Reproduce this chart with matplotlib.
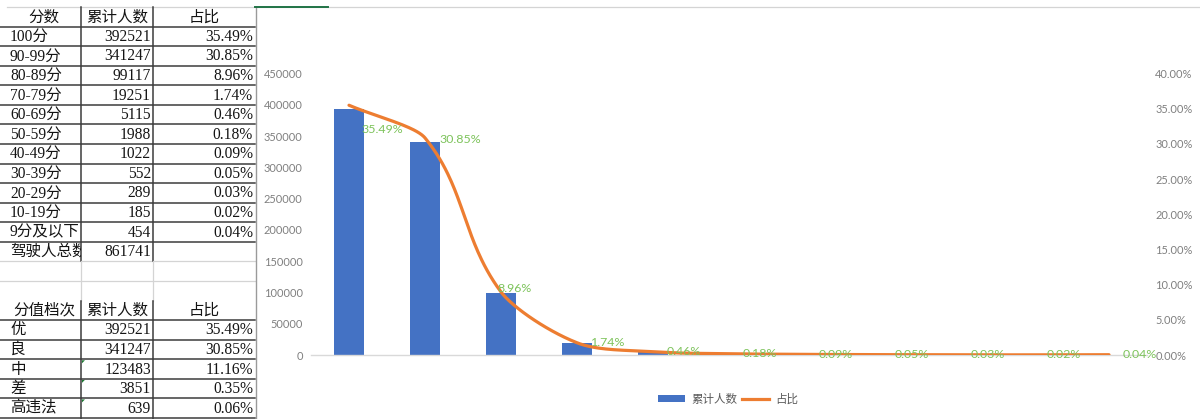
import numpy as np
import matplotlib
matplotlib.use('Agg')
import matplotlib.pyplot as plt
from matplotlib.transforms import Bbox, TransformedBbox
from matplotlib.lines import Line2D
from matplotlib.patches import Patch

# ---------------- data ----------------
score_bands = ['100分', '90-99分', '80-89分', '70-79分', '60-69分', '50-59分',
               '40-49分', '30-39分', '20-29分', '10-19分', '9分及以下']
counts = [392521, 341247, 99117, 19251, 5115, 1988, 1022, 552, 289, 185, 454]
shares = [35.49, 30.85, 8.96, 1.74, 0.46, 0.18, 0.09, 0.05, 0.03, 0.02, 0.04]
total_label = '驾驶人总数'
total_count = 861741

header1 = ['分数', '累计人数', '占比']
header2 = ['分值档次', '累计人数', '占比']
grades = ['优', '良', '中', '差', '高违法']
grade_counts = [392521, 341247, 123483, 3851, 639]
grade_shares = [35.49, 30.85, 11.16, 0.35, 0.06]

legend_labels = ['累计人数', '占比']
left_ticks = [0, 50000, 100000, 150000, 200000, 250000, 300000, 350000, 400000, 450000]
right_ticks = [0, 5, 10, 15, 20, 25, 30, 35, 40]

# ---------------- styles ----------------
BLUE = '#4472C4'
ORANGE = '#ED7D31'
GREEN = '#7DC35B'
TICK = '#7F7F7F'
CJK = ['Noto Sans CJK SC', 'DejaVu Sans']
TABF = ['Liberation Serif', 'Noto Sans CJK SC', 'DejaVu Sans']
NUMF = ['Lato', 'Noto Sans CJK SC', 'DejaVu Sans']

W, H = 1200, 419
fig = plt.figure(figsize=(W / 100, H / 100), dpi=100)
fig.patch.set_facecolor('white')

# ---------------- spreadsheet area ----------------
tab = fig.add_axes([0, 0, 1, 1], zorder=0)
tab.set_xlim(0, W)
tab.set_ylim(H, 0)
tab.axis('off')

top = 7.0
rh = 19.57
col_edges = [7, 81, 153, 255]
DARK = '#3C3C3C'
LIGHT = '#D4D4D4'


def rowy(i):
    return top + rh * i


def put(i, col, s, ha, clip=False):
    yc = rowy(i) + rh / 2 + 0.5
    if ha == 'left':
        x = col_edges[col] + 3
    elif ha == 'right':
        x = col_edges[col + 1] - 2
    else:
        x = (col_edges[col] + col_edges[col + 1]) / 2
    t = tab.text(x, yc, s, ha=ha, va='center', fontsize=11.2, family=TABF,
                 color='#141414')
    if clip:
        bb = Bbox([[col_edges[col], rowy(i)], [col_edges[col + 1], rowy(i + 1)]])
        t.set_clip_box(TransformedBbox(bb, tab.transData))
        t.set_clip_on(True)
    return t


# table 1
for c, h in enumerate(header1):
    put(0, c, h, 'center')
for k, (b, n, p) in enumerate(zip(score_bands, counts, shares)):
    put(1 + k, 0, b, 'left', clip=True)
    put(1 + k, 1, str(n), 'right')
    put(1 + k, 2, f'{p:.2f}%', 'right')
n1 = 1 + len(score_bands)
put(n1, 0, total_label, 'left', clip=True)
put(n1, 1, str(total_count), 'right')

# table 2
t2 = n1 + 3
for c, h in enumerate(header2):
    put(t2, c, h, 'center')
for k, (g, n, p) in enumerate(zip(grades, grade_counts, grade_shares)):
    put(t2 + 1 + k, 0, g, 'left')
    put(t2 + 1 + k, 1, str(n), 'right')
    put(t2 + 1 + k, 2, f'{p:.2f}%', 'right')
    if k >= 2:
        y0 = rowy(t2 + 1 + k)
        tab.fill([82, 85, 82], [y0 + 1, y0 + 1, y0 + 4], color='#1E7B34', lw=0)

# grid lines
tab.plot([7, W], [top, top], color=LIGHT, lw=0.9)
for i in range(1, n1 + 1):
    tab.plot([0, 255], [rowy(i), rowy(i)], color=DARK, lw=1.1)
for i in (n1 + 1, n1 + 2):
    tab.plot([0, 255], [rowy(i), rowy(i)], color=LIGHT, lw=0.9)
for i in range(t2 + 1, t2 + 7):
    tab.plot([0, 255], [rowy(i), rowy(i)], color=DARK, lw=1.1)
for xv in col_edges[1:3]:
    tab.plot([xv, xv], [top, rowy(n1 + 1)], color=DARK, lw=1.1)
    tab.plot([xv, xv], [rowy(n1 + 1), rowy(t2)], color=LIGHT, lw=0.9)
    tab.plot([xv, xv], [rowy(t2), H], color=DARK, lw=1.1)
tab.plot([256, 256], [top, H], color='#9A9A9A', lw=1.0)
tab.plot([255, 328], [top, top], color='#217346', lw=1.4)

# ---------------- chart ----------------
ax_l, ax_r, ax_b, ax_t = 311, 1147, 355, 73.5
x = np.arange(len(counts))
ax = fig.add_axes([ax_l / W, 1 - ax_b / H, (ax_r - ax_l) / W, (ax_b - ax_t) / H], zorder=2)
ax.patch.set_visible(False)
ax.bar(x, counts, width=0.4, color=BLUE, zorder=2)
ax.set_xlim(-0.5, len(counts) - 0.5)
ax.set_ylim(0, 450000)
ax.set_yticks(left_ticks)
ax.set_yticklabels([str(t) for t in left_ticks], family=NUMF)
ax.set_xticks([])
ax.tick_params(axis='y', length=0, pad=6, labelcolor=TICK, labelsize=7.9)
for s in ['top', 'left', 'right']:
    ax.spines[s].set_visible(False)
ax.spines['bottom'].set_color('#D9D9D9')
ax.spines['bottom'].set_linewidth(1.0)

ax2 = ax.twinx()
ax2.set_ylim(0, 40)
ax2.set_yticks(right_ticks)
ax2.set_yticklabels([f'{t:.2f}%' for t in right_ticks], family=NUMF)
ax2.tick_params(axis='y', length=0, pad=6, labelcolor=TICK, labelsize=7.9)
for s in ax2.spines.values():
    s.set_visible(False)

# smoothed line: Bezier with length-weighted tangents computed in screen space
sx = (ax_r - ax_l) / len(counts)          # px per category
sy = (ax_b - ax_t) / 40.0                 # px per percent
P = np.column_stack([x * sx, np.array(shares, dtype=float) * sy])
n = len(P)
arms_out, arms_in = [], []
for i in range(n):
    prev = P[i - 1] if i > 0 else P[i]
    nxt = P[i + 1] if i < n - 1 else P[i]
    l1 = np.linalg.norm(P[i] - prev) ** 2
    l2 = np.linalg.norm(nxt - P[i]) ** 2
    d = nxt - prev
    tot = l1 + l2 if (l1 + l2) > 0 else 1.0
    arms_in.append(d * (l1 / tot) / 3.0)
    arms_out.append(d * (l2 / tot) / 3.0)
tt = np.linspace(0, 1, 60)[:, None]
pts = []
for i in range(n - 1):
    p1, p2 = P[i], P[i + 1]
    c1 = p1 + arms_out[i]
    c2 = p2 - arms_in[i + 1]
    seg = (1 - tt) ** 3 * p1 + 3 * (1 - tt) ** 2 * tt * c1 + 3 * (1 - tt) * tt ** 2 * c2 + tt ** 3 * p2
    pts.append(seg)
pts = np.vstack(pts)
ax2.plot(pts[:, 0] / sx, pts[:, 1] / sy, color=ORANGE, lw=2.3,
         solid_capstyle='round', zorder=3)

# data labels
offsets = [(12, -24), (14, -2)] + [(-4, 3)] + [(14, 0)] * (len(shares) - 3)
for xi, v, (dx, dy) in zip(x, shares, offsets):
    ax2.annotate(f'{v:.2f}%', (xi, v), xytext=(dx, dy), textcoords='offset pixels',
                 ha='left', va='center', fontsize=8.9, family=NUMF, color=GREEN)

# legend
handles = [Patch(facecolor=BLUE, edgecolor='none'),
           Line2D([0], [0], color=ORANGE, lw=2.3)]
fig.legend(handles, legend_labels, loc='center', bbox_to_anchor=(728 / W, 1 - 399 / H),
           ncol=2, frameon=False, prop={'family': CJK, 'size': 8.3},
           labelcolor='#595959', handlelength=2.4, handleheight=0.55,
           handletextpad=0.5, columnspacing=0.4)

fig.savefig('out.png', dpi=100, facecolor='white')
